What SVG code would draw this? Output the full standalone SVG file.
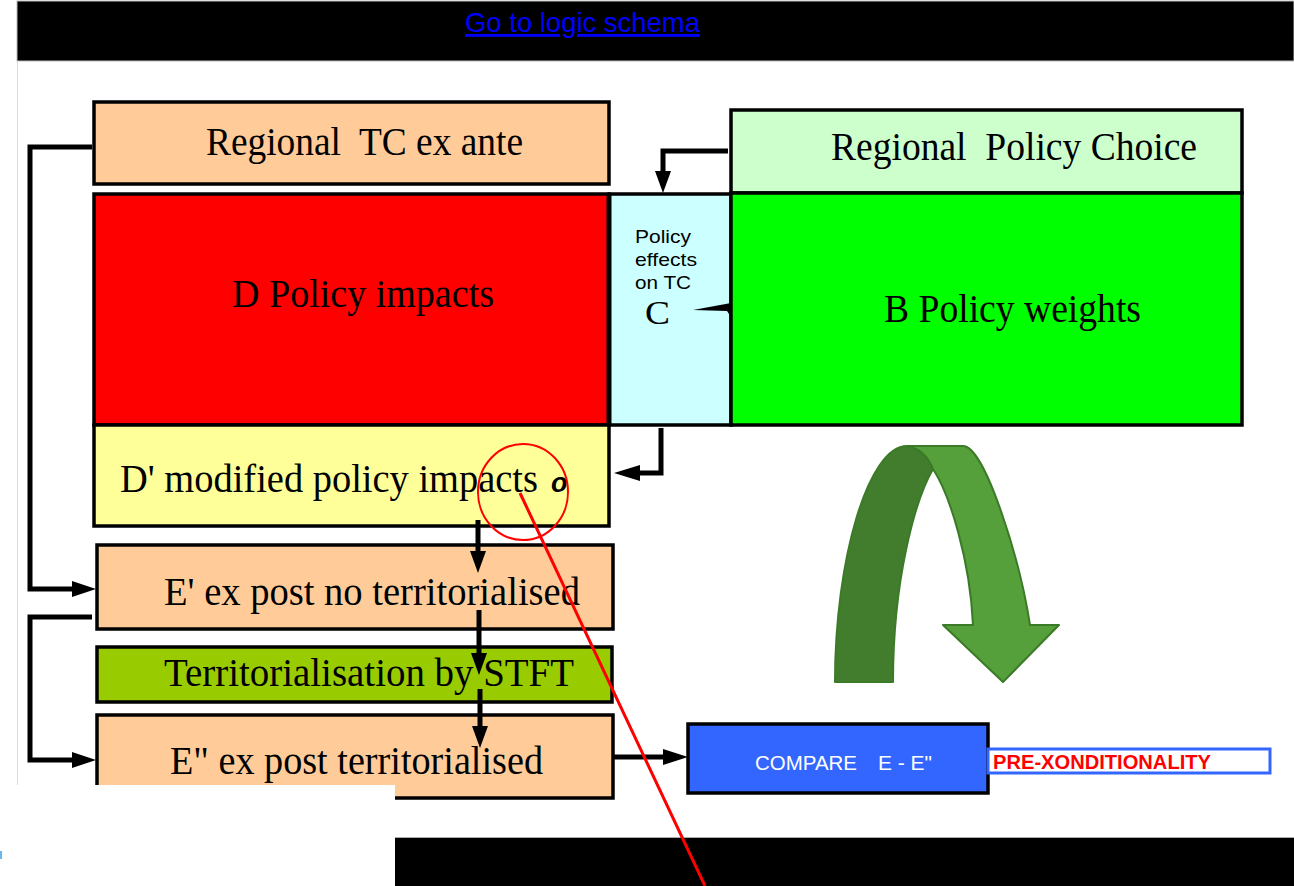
<svg xmlns="http://www.w3.org/2000/svg" width="1294" height="886" viewBox="0 0 1294 886">
  <style>
    .box { stroke: #000; stroke-width: 3.5; }
    .serif { font-family: "Liberation Serif", "Times New Roman", serif; font-size: 40px; fill: #000; }
    .sans { font-family: "Liberation Sans", Arial, sans-serif; }
    .wire { fill: none; stroke: #000; stroke-width: 5; }
    .head { fill: #000; stroke: none; }
  </style>

  <!-- page background and frame -->
  <rect x="0" y="0" width="1294" height="886" fill="#fff"/>
  <rect x="17" y="1" width="1277" height="60" fill="#000" stroke="#bbb" stroke-width="1"/>
  <line x1="17.5" y1="61" x2="17.5" y2="785" stroke="#ddd" stroke-width="1"/>
  <text x="465" y="32" class="sans" font-size="28" fill="#0000ff" text-decoration="underline" textLength="235" lengthAdjust="spacingAndGlyphs">Go to logic schema</text>

  <!-- ex-ante territorial capital -->
  <g id="tc-ex-ante">
    <rect x="94" y="102" width="515" height="82" fill="#ffcc99" class="box"/>
    <text x="206" y="155" class="serif" xml:space="preserve" textLength="317" lengthAdjust="spacingAndGlyphs">Regional  TC ex ante</text>
  </g>

  <g id="policy-choice">
    <rect x="731" y="110" width="511" height="83" fill="#ccffcc" class="box"/>
    <text x="831" y="160" class="serif" xml:space="preserve" textLength="366" lengthAdjust="spacingAndGlyphs">Regional  Policy Choice</text>
  </g>

  <g id="policy-impacts">
    <rect x="94" y="194" width="515" height="231" fill="#ff0000" class="box"/>
    <text x="232" y="307" class="serif" textLength="262" lengthAdjust="spacingAndGlyphs">D Policy impacts</text>
  </g>

  <g id="policy-effects">
    <rect x="609" y="194" width="122" height="231" fill="#ccffff" class="box"/>
    <line x1="609" y1="194" x2="609" y2="425" stroke="#000" stroke-width="5"/>
    <text class="sans" font-size="19" fill="#000">
      <tspan x="635" y="243" textLength="56" lengthAdjust="spacingAndGlyphs">Policy</tspan>
      <tspan x="635" y="266" textLength="62" lengthAdjust="spacingAndGlyphs">effects</tspan>
      <tspan x="635" y="289" textLength="56" lengthAdjust="spacingAndGlyphs">on TC</tspan>
      <tspan x="645" y="324" font-family="'Liberation Serif', 'Times New Roman', serif" font-size="34" textLength="25" lengthAdjust="spacingAndGlyphs">C</tspan>
    </text>
  </g>

  <g id="policy-weights">
    <rect x="731" y="193" width="511" height="232" fill="#00ff00" class="box"/>
    <text x="884" y="322" class="serif" textLength="257" lengthAdjust="spacingAndGlyphs">B Policy weights</text>
  </g>

  <g id="modified-impacts">
    <rect x="94" y="425" width="515" height="101" fill="#ffff99" class="box"/>
    <text x="120" y="492" class="serif" font-size="38"><tspan textLength="418" lengthAdjust="spacingAndGlyphs">D' modified policy impacts</tspan> <tspan dx="3" font-family="'Liberation Sans', Arial, sans-serif" font-size="27" font-weight="bold" font-style="italic">o</tspan></text>
  </g>

  <g id="ex-post-no-terr">
    <rect x="97" y="545" width="516" height="84" fill="#ffcc99" class="box"/>
    <text x="164" y="605" class="serif" textLength="416" lengthAdjust="spacingAndGlyphs">E' ex post no territorialised</text>
  </g>

  <g id="territorialisation">
    <rect x="97" y="647" width="515" height="55" fill="#99cc00" class="box"/>
    <text x="164" y="686" class="serif" textLength="410" lengthAdjust="spacingAndGlyphs">Territorialisation by STFT</text>
  </g>

  <g id="ex-post-terr">
    <rect x="97" y="715" width="516" height="83" fill="#ffcc99" class="box"/>
    <text x="170" y="774" class="serif" textLength="373" lengthAdjust="spacingAndGlyphs">E" ex post territorialised</text>
  </g>

  <g id="compare">
    <rect x="688" y="724" width="300" height="69" fill="#3366ff" class="box"/>
    <g class="sans" font-size="21" fill="#fff">
      <text x="755" y="770" textLength="102" lengthAdjust="spacingAndGlyphs">COMPARE</text>
      <text x="878" y="770" textLength="54" lengthAdjust="spacingAndGlyphs">E - E"</text>
    </g>
  </g>

  <g id="pre-conditionality">
    <rect x="988" y="749" width="282" height="24" fill="#fff" stroke="#3366ff" stroke-width="3"/>
    <text x="993" y="769" class="sans" font-size="20" font-weight="bold" fill="#ff0000" textLength="218" lengthAdjust="spacingAndGlyphs">PRE-XONDITIONALITY</text>
  </g>

  <!-- curved feedback arrow -->
  <g id="loop-arrow" stroke="#3b7a27" stroke-width="2" stroke-linejoin="round">
    <path d="M835,682 C835,560 868,446 907,446 Q925,449 933,469 C915,500 893,580 893,682 Z" fill="#427d2d"/>
    <path d="M907,446 L963,446 C985,446 1020,560 1030,625 L1059,625 L1003,682 L943,625 L973,625 C970,560 950,495 933,469 Q925,449 907,446 Z" fill="#55a03b"/>
  </g>

  <!-- connectors -->
  <g id="connectors">
    <polyline class="wire" points="92,147 30,147 30,589 74,589"/>
    <polygon class="head" points="96,589 72,581 72,597"/>
    <polyline class="wire" points="92,617 30,617 30,760 74,760"/>
    <polygon class="head" points="96,760 72,752 72,768"/>

    <polyline class="wire" points="728,151 663,151 663,174"/>
    <polygon class="head" points="663,193 655,171 671,171"/>

    <polygon class="head" points="693,310 731,303 731,317 727,311"/>

    <polyline class="wire" points="661,428 661,473 638,473"/>
    <polygon class="head" points="614,473 640,465 640,481"/>

    <line class="wire" x1="478" y1="520" x2="478" y2="555"/>
    <polygon class="head" points="478,573 470,551 486,551"/>
    <line class="wire" x1="479" y1="610" x2="479" y2="657"/>
    <polygon class="head" points="479,675 471,653 487,653"/>
    <line class="wire" x1="480" y1="689" x2="480" y2="730"/>
    <polygon class="head" points="480,748 472,726 488,726"/>

    <line class="wire" x1="613" y1="757" x2="665" y2="757"/>
    <polygon class="head" points="688,757 663,749 663,765"/>
  </g>

  <!-- lower page margin and footer band -->
  <rect x="0" y="785" width="395" height="101" fill="#fff"/>
  <rect x="0" y="851" width="2" height="8" fill="#6ab8e8"/>
  <rect x="395" y="838" width="899" height="48" fill="#000"/>
  <line x1="395" y1="837.5" x2="1294" y2="837.5" stroke="#aaa" stroke-width="1"/>

  <!-- red annotation -->
  <g id="annotation" fill="none" stroke="#ff0000">
    <ellipse cx="523" cy="492" rx="45" ry="48" stroke-width="2"/>
    <line x1="520" y1="493" x2="705" y2="886" stroke-width="3"/>
  </g>
</svg>
